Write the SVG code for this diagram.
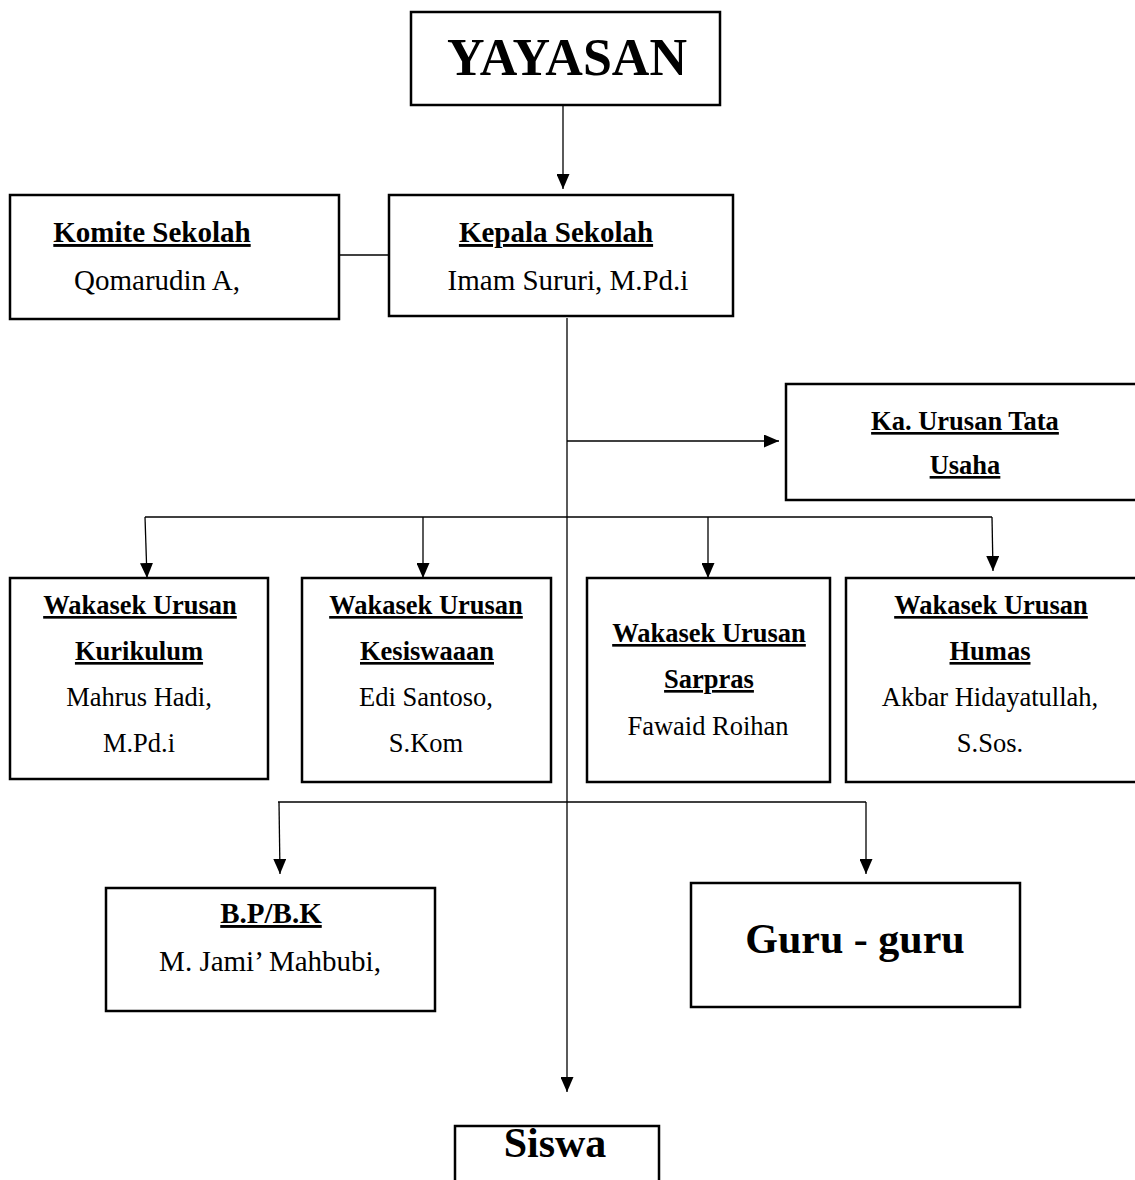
<svg xmlns="http://www.w3.org/2000/svg" width="1135" height="1180" viewBox="0 0 1135 1180">
<style>
.box{fill:#fff;stroke:#000;stroke-width:2.5}
.t{font-family:"Liberation Serif","Times New Roman",serif;fill:#000;text-anchor:middle}
.b{font-weight:bold}
.u{text-decoration:underline}
.s29{font-size:29px}
.s26{font-size:26.5px}
.con{fill:none;stroke:#000;stroke-width:1.3}
</style>
<defs>
<marker id="ah" markerUnits="userSpaceOnUse" markerWidth="16" markerHeight="13" refX="15" refY="6.5" orient="auto">
<path d="M0,0 L15,6.5 L0,13 z" fill="#000"/>
</marker>
</defs>
<rect width="1135" height="1180" fill="#fff"/>
<g id="connectors">
<line class="con" x1="563" y1="105" x2="563" y2="189" marker-end="url(#ah)"/>
<line class="con" x1="339" y1="255" x2="389" y2="255"/>
<line class="con" x1="567" y1="318" x2="567" y2="1092" marker-end="url(#ah)"/>
<line class="con" x1="567" y1="441" x2="779" y2="441" marker-end="url(#ah)"/>
<line class="con" x1="145" y1="517" x2="992" y2="517"/>
<line class="con" x1="145" y1="517" x2="147" y2="578" marker-end="url(#ah)"/>
<line class="con" x1="423" y1="517" x2="423" y2="578" marker-end="url(#ah)"/>
<line class="con" x1="708" y1="517" x2="708" y2="578" marker-end="url(#ah)"/>
<line class="con" x1="992" y1="517" x2="993" y2="571" marker-end="url(#ah)"/>
<line class="con" x1="278" y1="802" x2="866" y2="802"/>
<line class="con" x1="279" y1="802" x2="280" y2="874" marker-end="url(#ah)"/>
<line class="con" x1="866" y1="802" x2="866" y2="874" marker-end="url(#ah)"/>
</g>
<g id="yayasan">
<rect class="box" x="411" y="12" width="309" height="93"/>
<text class="t b" x="567" y="75" font-size="52">YAYASAN</text>
</g>
<g id="komite">
<rect class="box" x="10" y="195" width="329" height="124"/>
<text class="t b u s29" x="152" y="242">Komite Sekolah</text>
<text class="t s29" x="157" y="290">Qomarudin A,</text>
</g>
<g id="kepala">
<rect class="box" x="389" y="195" width="344" height="121"/>
<text class="t b u s29" x="556" y="242">Kepala Sekolah</text>
<text class="t s29" x="568" y="290">Imam Sururi, M.Pd.i</text>
</g>
<g id="tatausaha">
<rect class="box" x="786" y="384" width="360" height="116"/>
<text class="t b u s26" x="965" y="430">Ka. Urusan Tata</text>
<text class="t b u s26" x="965" y="474">Usaha</text>
</g>
<g id="kurikulum">
<rect class="box" x="10" y="578" width="258" height="201"/>
<text class="t b u s26" x="140" y="614">Wakasek Urusan</text>
<text class="t b u s26" x="139" y="660">Kurikulum</text>
<text class="t s26" x="139" y="706">Mahrus Hadi,</text>
<text class="t s26" x="139" y="752">M.Pd.i</text>
</g>
<g id="kesiswaan">
<rect class="box" x="302" y="578" width="249" height="204"/>
<text class="t b u s26" x="426" y="614">Wakasek Urusan</text>
<text class="t b u s26" x="427" y="660">Kesiswaaan</text>
<text class="t s26" x="426" y="706">Edi Santoso,</text>
<text class="t s26" x="426" y="752">S.Kom</text>
</g>
<g id="sarpras">
<rect class="box" x="587" y="578" width="243" height="204"/>
<text class="t b u s26" x="709" y="642">Wakasek Urusan</text>
<text class="t b u s26" x="709" y="688">Sarpras</text>
<text class="t s26" x="708" y="735">Fawaid Roihan</text>
</g>
<g id="humas">
<rect class="box" x="846" y="578" width="300" height="204"/>
<text class="t b u s26" x="991" y="614">Wakasek Urusan</text>
<text class="t b u s26" x="990" y="660">Humas</text>
<text class="t s26" x="990" y="706">Akbar Hidayatullah,</text>
<text class="t s26" x="990" y="752">S.Sos.</text>
</g>
<g id="bpbk">
<rect class="box" x="106" y="888" width="329" height="123"/>
<text class="t b u s29" x="271" y="923">B.P/B.K</text>
<text class="t s29" x="270" y="971">M. Jami’ Mahbubi,</text>
</g>
<g id="guru">
<rect class="box" x="691" y="883" width="329" height="124"/>
<text class="t b" x="855" y="953" font-size="42">Guru - guru</text>
</g>
<g id="siswa">
<rect class="box" x="455" y="1126" width="204" height="70"/>
<text class="t b" x="555" y="1157" font-size="42">Siswa</text>
</g>
</svg>
